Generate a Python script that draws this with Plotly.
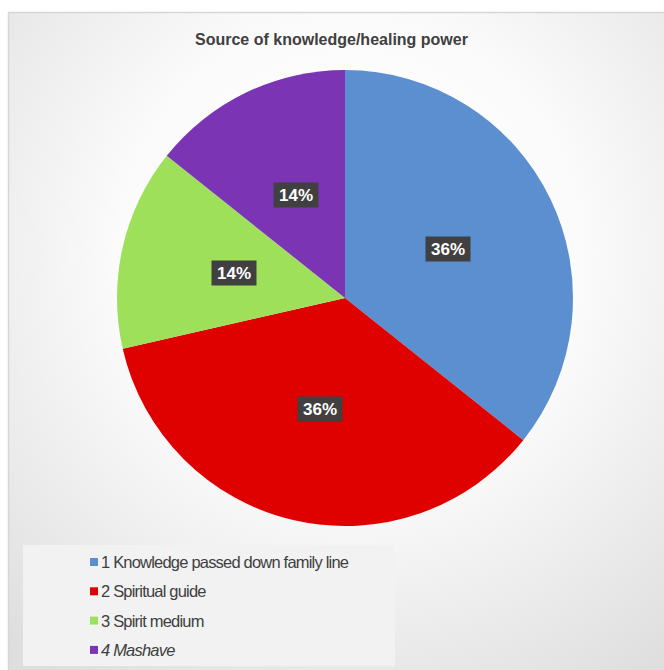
import base64
import math
import plotly.graph_objects as go

W, H = 664, 670

labels = ["1 Knowledge passed down family line", "2 Spiritual guide", "3 Spirit medium", "<i>4 Mashave</i>"]
values = [5, 5, 2, 2]
colors = ["#5b8fd0", "#df0000", "#9fe05b", "#7b34b4"]
title_text = "Source of knowledge/healing power"

# background (gradient panel + border + legend panel) as an SVG layout image
svg = f'''<svg xmlns="http://www.w3.org/2000/svg" width="{W}" height="{H}" viewBox="0 0 {W} {H}">
<defs><radialGradient id="g" cx="0.5" cy="0.35" r="0.75">
<stop offset="0" stop-color="#ffffff"/><stop offset="0.45" stop-color="#fbfbfb"/><stop offset="1" stop-color="#dedede"/></radialGradient></defs>
<rect x="0" y="0" width="{W}" height="{H}" fill="#ffffff"/>
<rect x="8.5" y="12.5" width="{W+20}" height="{H+20}" fill="url(#g)" stroke="#d6d6d6" stroke-width="1.5"/>
<rect x="23" y="545" width="372" height="121" fill="#f2f2f2"/>
</svg>'''
svg_uri = "data:image/svg+xml;base64," + base64.b64encode(svg.encode()).decode()

cx, cy, R = 345, 298, 228  # pixel geometry of the pie
dom_x = [(cx - R) / W, (cx + R) / W]
dom_y = [1 - (cy + R) / H, 1 - (cy - R) / H]

fig = go.Figure(go.Pie(
    labels=labels, values=values, sort=False, direction="clockwise", rotation=0,
    marker=dict(colors=colors, line=dict(width=0)),
    textinfo="none", hoverinfo="label+percent", showlegend=False,
    domain=dict(x=dom_x, y=dom_y),
))

# percentage labels in dark boxes, placed at half radius on each slice's mid-angle
total = sum(values)
cum = 0
annotations = []
for v in values:
    mid = (cum + v / 2) / total * 2 * math.pi
    cum += v
    px = cx + 0.5 * R * math.sin(mid)
    py = cy - 0.5 * R * math.cos(mid)
    annotations.append(dict(
        x=px / W, y=1 - py / H, xref="paper", yref="paper", showarrow=False,
        xanchor="center", yanchor="middle",
        text=f"<b>{round(100 * v / total)}%</b>",
        font=dict(family="Liberation Sans, Arial", size=17, color="#ffffff"),
        bgcolor="#404040", width=42, height=22, borderpad=1,
    ))

# legend, drawn from labels / colors
shapes = []
row0, gap = 562, 29.3
for i, (lab, col) in enumerate(zip(labels, colors)):
    yy = row0 + i * gap
    shapes.append(dict(type="rect", xref="paper", yref="paper",
                       x0=90 / W, x1=98 / W, y0=1 - (yy + 4) / H, y1=1 - (yy - 4) / H,
                       fillcolor=col, line=dict(width=0)))
    annotations.append(dict(
        x=99 / W, y=1 - yy / H, xref="paper", yref="paper", showarrow=False,
        xanchor="left", yanchor="middle",
        text=f'<span style="letter-spacing:-0.8px">{lab}</span>',
        font=dict(family="Liberation Sans, Arial", size=16.5, color="#404040"),
    ))

annotations.append(dict(
    x=331 / W, y=1 - 40 / H, xref="paper", yref="paper", showarrow=False,
    text=f"<b>{title_text}</b>", xanchor="center", yanchor="middle",
    font=dict(family="Liberation Sans, Arial", size=16, color="#404040"),
))

fig.update_layout(
    width=W, height=H, margin=dict(l=0, r=0, t=0, b=0),
    paper_bgcolor="#ffffff", plot_bgcolor="#ffffff",
    images=[dict(source=svg_uri, xref="paper", yref="paper", x=0, y=1,
                 sizex=1, sizey=1, sizing="stretch", xanchor="left", yanchor="top", layer="below")],
    shapes=shapes, annotations=annotations, showlegend=False,
)

fig.write_html("out.html")
